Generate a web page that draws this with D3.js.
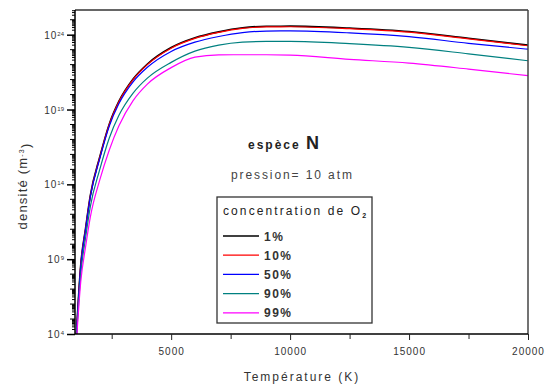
<!DOCTYPE html>
<html>
<head>
<meta charset="utf-8">
<script src="https://cdn.jsdelivr.net/npm/d3@7"></script>
<style>
  body { margin: 0; background: #fff; }
  svg { display: block; font-family: "Liberation Sans", Arial, sans-serif; }
  .tick-label { font-size: 10px; fill: #333; letter-spacing: 1px; }
</style>
</head>
<body>
<svg width="547" height="385"></svg>
<script>
'use strict';

// temperatures (K) and log10 of density for each O2 concentration
var temps = [1000, 1200, 1400, 1600, 2000, 2400, 2800, 3400, 4000, 5000, 6000, 7000, 8000, 9000, 10000, 12500, 15000, 17500, 20000];
var logN1 = [3.54, 8.64, 11.04, 13.24, 15.84, 18.04, 19.54, 21.04, 22.04, 23.14, 23.79, 24.19, 24.46, 24.56, 24.57, 24.44, 24.21, 23.76, 23.3];
var logN10 = [3.5, 8.6, 11.0, 13.2, 15.8, 18.0, 19.5, 21.0, 22.0, 23.1, 23.75, 24.15, 24.42, 24.52, 24.53, 24.4, 24.17, 23.72, 23.26];
var logN50 = [3.45, 8.55, 10.95, 13.14, 15.72, 17.9, 19.38, 20.85, 21.82, 22.88, 23.5, 23.88, 24.14, 24.24, 24.25, 24.12, 23.87, 23.42, 23.03];
var logN90 = [3.2, 8.0, 10.4, 12.5, 15.0, 17.1, 18.6, 20.1, 21.1, 22.15, 22.9, 23.3, 23.5, 23.55, 23.55, 23.4, 23.15, 22.72, 22.26];
var logN99 = [3.0, 7.5, 9.8, 11.8, 14.3, 16.3, 17.9, 19.6, 20.7, 21.8, 22.5, 22.65, 22.66, 22.66, 22.63, 22.35, 22.1, 21.7, 21.26];

var seriesNames = ['1%', '10%', '50%', '90%', '99%'];
var seriesColors = ['#000000', '#ff0000', '#0000ff', '#008080', '#ff00ff'];
var xTicks = [5000, 10000, 15000, 20000];
var xMinorTicks = [2500, 7500, 12500, 17500];
var yTickExps = [4, 9, 14, 19, 24];

var svg = d3.select('svg'),
    plotLeft = 75, plotRight = 528, plotTop = 10, plotBottom = 334;

var x = d3.scaleLinear().domain([1000, 20000]).range([plotLeft + 1, plotRight]);
var y = d3.scaleLog().domain([1e4, Math.pow(10, 25.65)]).range([plotBottom, plotTop]);

svg.append('defs').append('clipPath').attr('id', 'plotClip')
    .append('rect')
    .attr('x', plotLeft).attr('y', plotTop)
    .attr('width', plotRight - plotLeft).attr('height', plotBottom - plotTop);

// curves
var curves = svg.append('g').attr('clip-path', 'url(#plotClip)');
var line = d3.line()
    .x(function (d) { return x(d[0]); })
    .y(function (d) { return y(Math.pow(10, d[1])); })
    .curve(d3.curveMonotoneX);

[logN1, logN10, logN50, logN90, logN99].forEach(function (vals, i) {
    curves.append('path')
        .datum(temps.map(function (t, k) { return [t, vals[k]]; }))
        .attr('d', line)
        .attr('fill', 'none')
        .attr('stroke', seriesColors[i])
        .attr('stroke-width', i === 0 ? 1.6 : 1.2);
});

// frame (top and right)
svg.append('line').attr('x1', plotLeft).attr('x2', plotRight).attr('y1', plotTop).attr('y2', plotTop)
    .attr('stroke', '#333').attr('stroke-width', 1.5);
svg.append('line').attr('x1', plotRight).attr('x2', plotRight).attr('y1', plotTop).attr('y2', plotBottom)
    .attr('stroke', '#444').attr('stroke-width', 1.5);

// x axis
var xAxis = svg.append('g').attr('transform', 'translate(0,' + plotBottom + ')')
    .call(d3.axisBottom(x).tickValues(xTicks).tickSize(6).tickPadding(8).tickFormat(d3.format('d')));
xAxis.select('.domain').attr('d', 'M' + plotLeft + ',0H' + plotRight).attr('stroke', '#000').attr('stroke-width', 1.5);
xAxis.selectAll('.tick text').attr('class', 'tick-label').attr('font-family', null).attr('font-size', null);
xAxis.selectAll('.tick line').attr('stroke', '#222');
svg.append('g').attr('transform', 'translate(0,' + plotBottom + ')')
    .call(d3.axisBottom(x).tickValues(xMinorTicks).tickSize(5).tickFormat(''))
    .call(function (g) { g.select('.domain').remove(); g.selectAll('line').attr('stroke', '#222'); });

// y axis: major every 5 decades, minor log ticks
var yMax = y.domain()[1];
var minorY = [];
for (var e = 4; e <= 25; e++) {
    for (var m = 1; m < 10; m++) {
        var v = m * Math.pow(10, e);
        if (v > yMax) continue;
        if (m === 1 && yTickExps.indexOf(e) >= 0) continue;
        minorY.push({ v: v, decade: m === 1 });
    }
}
var yMinor = svg.append('g').attr('transform', 'translate(' + plotLeft + ',0)');
yMinor.selectAll('line').data(minorY).enter().append('line')
    .attr('x1', function (d) { return d.decade ? -5 : -3; })
    .attr('x2', 0)
    .attr('y1', function (d) { return y(d.v); })
    .attr('y2', function (d) { return y(d.v); })
    .attr('stroke', '#000').attr('stroke-width', 1);

var yAxis = svg.append('g').attr('transform', 'translate(' + plotLeft + ',0)')
    .call(d3.axisLeft(y).tickValues(yTickExps.map(function (k) { return Math.pow(10, k); }))
        .tickSize(8).tickFormat(''));
yAxis.select('.domain').attr('d', 'M0,' + plotTop + 'V' + plotBottom).attr('stroke', '#000').attr('stroke-width', 1.5);
yAxis.selectAll('.tick line').attr('stroke', '#000').attr('stroke-width', 1.5);
yAxis.selectAll('.tick').append('text')
    .attr('class', 'tick-label')
    .attr('x', -11).attr('dy', '0.35em')
    .attr('text-anchor', 'end')
    .each(function (d) {
        var t = d3.select(this);
        t.append('tspan').text('10');
        t.append('tspan').attr('dy', '-0.5em').attr('font-size', '6px').attr('letter-spacing', '0px')
            .text(Math.round(Math.log10(d)));
    });

// axis titles
svg.append('text')
    .attr('x', 302).attr('y', 381)
    .attr('text-anchor', 'middle')
    .attr('font-size', '12px').attr('fill', '#333').attr('letter-spacing', '2px')
    .text('Température (K)');

var yTitle = svg.append('text')
    .attr('transform', 'translate(27,186) rotate(-90)')
    .attr('text-anchor', 'middle')
    .attr('font-size', '13px').attr('fill', '#333').attr('letter-spacing', '1.2px');
yTitle.append('tspan').text('densité (m');
yTitle.append('tspan').attr('dy', '-0.5em').attr('font-size', '7px').text('-3');
yTitle.append('tspan').attr('dy', '0.5em').text(')');

// annotations
var sp = svg.append('text').attr('x', 248).attr('y', 149).attr('fill', '#222').attr('font-weight', 'bold');
sp.append('tspan').attr('font-size', '12px').attr('letter-spacing', '2px').text('espèce ');
sp.append('tspan').attr('font-size', '18px').text('N');

svg.append('text')
    .attr('x', 231).attr('y', 179)
    .attr('font-size', '12px').attr('fill', '#444').attr('letter-spacing', '1.9px')
    .text('pression= 10 atm');

// legend
var legend = svg.append('g');
legend.append('rect')
    .attr('x', 217).attr('y', 197).attr('width', 155).attr('height', 126)
    .attr('fill', '#fff').attr('stroke', '#333').attr('stroke-width', 1.3);
var lt = legend.append('text').attr('x', 223).attr('y', 215)
    .attr('font-size', '12px').attr('fill', '#222').attr('letter-spacing', '2.1px');
lt.append('tspan').text('concentration de O');
lt.append('tspan').attr('dy', '0.45em').attr('font-size', '7px').attr('font-weight', 'bold').text('2');

var rows = legend.selectAll('g.row').data(seriesNames).enter().append('g')
    .attr('transform', function (d, i) { return 'translate(0,' + (236 + i * 19.2) + ')'; });
rows.append('line')
    .attr('x1', 223).attr('x2', 259).attr('y1', 0).attr('y2', 0)
    .attr('stroke', function (d, i) { return seriesColors[i]; })
    .attr('stroke-width', 1.3);
rows.append('text')
    .attr('x', 264).attr('dy', '0.38em')
    .attr('font-size', '12px').attr('font-weight', 'bold').attr('fill', '#333').attr('letter-spacing', '1.5px')
    .text(function (d) { return d; });
</script>
</body>
</html>
